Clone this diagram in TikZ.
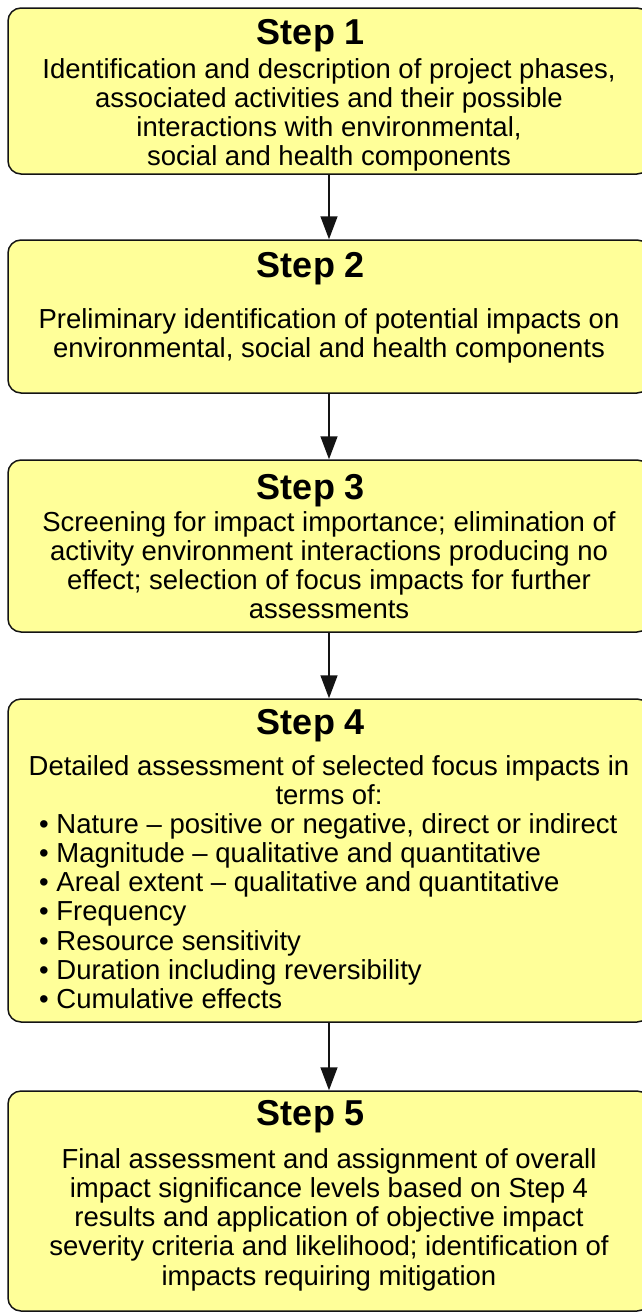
\documentclass[tikz,border=0pt]{standalone}
\usepackage{fontspec}
\setmainfont{Liberation Sans}
\usepackage{tikz}
\usetikzlibrary{positioning,arrows.meta}
\definecolor{boxcolor}{RGB}{255,255,153}
\definecolor{linecolor}{RGB}{20,20,20}

\begin{document}
\begin{tikzpicture}[x=1pt, y=-1pt,
  stepbox/.style={draw=linecolor, line width=1.5pt, fill=boxcolor, rounded corners=13pt,
    minimum width=642pt, inner sep=0pt},
  steptitle/.style={anchor=base, inner sep=0pt, font=\fontsize{36}{40}\selectfont\bfseries},
  steptext/.style={anchor=base, inner sep=0pt, align=center, font=\fontsize{27.5}{29.3}\selectfont},
  flow/.style={line width=1.5pt, draw=linecolor, -{Triangle[length=23pt,width=17pt]}}]
  \useasboundingbox (0,0) rectangle (642,1312);
  \clip (0,0) rectangle (642,1312);

  % boxes
  \node[stepbox, minimum height=166pt] (s1) at (329,91) {};
  \node[stepbox, minimum height=153pt] (s2) at (329,316.5) {};
  \node[stepbox, minimum height=172pt] (s3) at (329,546) {};
  \node[stepbox, minimum height=323pt] (s4) at (329,860.5) {};
  \node[stepbox, minimum height=220pt] (s5) at (329,1201) {};

  % Step 1 (text nodes sit on the baseline of their last line)
  \node[steptitle] (t1) at (311,44) {Step 1};
  \node[steptext] (b1) at (329,165.9) {Identification and description of project phases,\\
    associated activities and their possible\\interactions with environmental,\\
    social and health components};

  % Step 2
  \node[steptitle] (t2) at (311,277) {Step 2};
  \node[steptext] (b2) at (329,357.3) {Preliminary identification of potential impacts on\\
    environmental, social and health components};

  % Step 3
  \node[steptitle] (t3) at (311,499) {Step 3};
  \node[steptext] (b3) at (329,618.9) {Screening for impact importance; elimination of\\
    activity environment interactions producing no\\
    effect; selection of focus impacts for further\\assessments};

  % Step 4
  \node[steptitle] (t4) at (311,734) {Step 4};
  \node[steptext] (b4) at (329,804.3) {Detailed assessment of selected focus impacts in\\terms of:};
  \node[steptext, align=left, anchor=base west] (l4) at (39,1008.8) {%
    \textbullet\ Nature – positive or negative, direct or indirect\\
    \textbullet\ Magnitude – qualitative and quantitative\\
    \textbullet\ Areal extent – qualitative and quantitative\\
    \textbullet\ Frequency\\
    \textbullet\ Resource sensitivity\\
    \textbullet\ Duration including reversibility\\
    \textbullet\ Cumulative effects};

  % Step 5
  \node[steptitle] (t5) at (311,1125) {Step 5};
  \node[steptext] (b5) at (329,1285.2) {Final assessment and assignment of overall\\
    impact significance levels based on Step 4\\
    results and application of objective impact\\
    severity criteria and likelihood; identification of\\
    impacts requiring mitigation};

  % arrows
  \draw[flow] (s1.south) -- (s2.north);
  \draw[flow] (s2.south) -- (s3.north);
  \draw[flow] (s3.south) -- (s4.north);
  \draw[flow] (s4.south) -- (s5.north);
\end{tikzpicture}
\end{document}
